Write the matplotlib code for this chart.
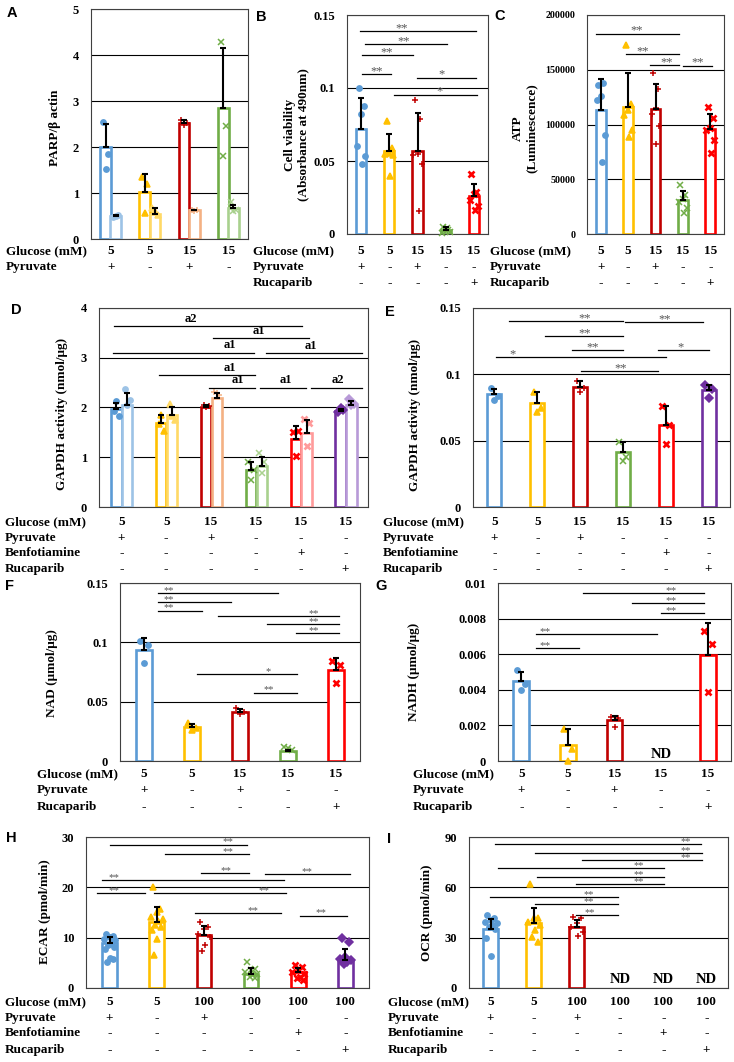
import matplotlib
matplotlib.use("Agg")
import matplotlib.pyplot as plt
import matplotlib.transforms as mtransforms
import numpy as np

W, H = 734, 1062
plt.rcParams["font.family"] = ["Liberation Serif", "DejaVu Serif"]
plt.rcParams["font.weight"] = "bold"
plt.rcParams["font.size"] = 9

BLUE, YELLOW, DRED, GREEN, RED, PURPLE = "#5B9BD5", "#FFC000", "#C00000", "#70AD47", "#FF0000", "#7030A0"
LBLUE, LYELLOW, LSALMON, LGREEN, LPINK, LPURPLE = "#9DC3E6", "#FFD966", "#F4B183", "#A9D18E", "#FF9B9B", "#B89AD8"

# ---------------- data ----------------
# A: PARP / beta actin (two bars per group)
a_mean_dark = [2.0, 1.03, 2.52, 2.85]
a_sd_dark = [0.5, 0.39, 0.06, 1.3]
a_pts_dark = [[2.55, 1.85, 1.52], [1.35, 1.2, 0.57], [2.58, 2.52, 2.48], [4.28, 2.45, 1.8]]
a_mean_light = [0.5, 0.55, 0.62, 0.67]
a_sd_light = [0.03, 0.12, 0.02, 0.08]
a_pts_light = [[0.48, 0.53, 0.5], [0.68, 0.52, 0.6], [0.63, 0.62, 0.61], [0.8, 0.62, 0.6]]
a_glucose = ["5", "5", "15", "15"]
a_pyruvate = ["+", "-", "+", "-"]

# B: cell viability
b_mean = [0.0718, 0.0568, 0.057, 0.003, 0.026]
b_sd = [0.0214, 0.0118, 0.026, 0.0015, 0.008]
b_pts = [[0.1, 0.0875, 0.082, 0.0605, 0.0535, 0.048],
         [0.0775, 0.0586, 0.0552, 0.055, 0.054, 0.0398],
         [0.0916, 0.079, 0.055, 0.054, 0.048, 0.016],
         [0.005, 0.003, 0.002, 0.001, 0.0015, 0.004],
         [0.041, 0.029, 0.0275, 0.023, 0.0195, 0.0166]]
b_sig = [(-0.03, 4.06, 0.139, "**", 1.43), (0.13, 3.06, 0.130, "**", 1.51),
         (0.04, 1.84, 0.1227, "**", 0.89), (0.04, 1.05, 0.1093, "**", 0.54),
         (1.98, 4.06, 0.107, "*", 2.85), (1.15, 4.12, 0.0955, "*", 2.79)]

# C: ATP
c_mean = [113400, 116000, 114000, 31300, 95700]
c_sd = [28200, 31000, 23000, 8200, 13700]
c_pts = [[136000, 138000, 126000, 122000, 90000, 66000],
         [173000, 119000, 113000, 109000, 95000, 89000],
         [147000, 132000, 115000, 110000, 99000, 82000],
         [45000, 36000, 32000, 29000, 24000, 19000],
         [116000, 106000, 97000, 95000, 86000, 74000]]
c_sig = [(-0.18, 2.86, 183000, "**", 1.30), (0.94, 2.86, 164000, "**", 1.54),
         (1.79, 2.86, 154000, "**", 2.40), (3.0, 4.06, 153600, "**", 3.55)]

five_glucose = ["5", "5", "15", "15", "15"]
five_pyruvate = ["+", "-", "+", "-", "-"]
five_rucaparib = ["-", "-", "-", "-", "+"]

# D: GAPDH activity (two bars per group)
d_mean_dark = [1.97, 1.69, 2.02, 0.74, 1.36, 1.93]
d_sd_dark = [0.13, 0.15, 0.04, 0.17, 0.27, 0.04]
d_pts_dark = [[1.92, 1.83, 2.13], [1.66, 1.53, 1.85], [2.05, 2.03, 2.0],
              [0.91, 0.74, 0.55], [1.51, 1.53, 1.03], [1.9, 1.95, 1.98]]
d_mean_light = [2.06, 1.85, 2.2, 0.83, 1.49, 2.06]
d_sd_light = [0.23, 0.15, 0.09, 0.18, 0.26, 0.08]
d_pts_light = [[2.37, 2.15, 2.06], [2.08, 1.75, 1.82], [2.32, 2.25, 2.29],
               [1.08, 0.91, 0.69], [1.77, 1.68, 1.22], [2.17, 2.08, 2.05]]
d_sig = [(-0.16, 4.02, 3.64, "a2", 1.54), (2.05, 4.18, 3.39, "a1", 3.06),
         (-0.19, 2.95, 3.10, "a1", 2.42), (3.22, 5.37, 3.09, "a1", 4.22),
         (0.84, 2.97, 2.65, "a1", 2.42), (1.96, 2.97, 2.40, "a1", 2.6),
         (3.10, 4.11, 2.40, "a1", 3.66), (4.22, 5.37, 2.40, "a2", 4.82)]

# E: GAPDH activity
e_mean = [0.0854, 0.0784, 0.0905, 0.0415, 0.062, 0.088]
e_sd = [0.0033, 0.0083, 0.0042, 0.0075, 0.0139, 0.0037]
e_pts = [[0.09, 0.084, 0.081], [0.087, 0.0746, 0.0716], [0.095, 0.09, 0.087],
         [0.049, 0.038, 0.035], [0.076, 0.062, 0.0477], [0.0917, 0.0887, 0.0824]]
e_sig = [(0.33, 3.01, 0.140, "**", 2.11), (3.06, 4.88, 0.1395, "**", 3.97),
         (1.18, 3.01, 0.129, "**", 2.11), (1.82, 3.01, 0.1183, "**", 2.30),
         (3.81, 5.0, 0.1183, "*", 4.35), (0.04, 4.0, 0.113, "*", 0.43),
         (2.02, 3.83, 0.1025, "**", 2.94)]

six_glucose = ["5", "5", "15", "15", "15", "15"]
six_pyruvate = ["+", "-", "+", "-", "-", "-"]
six_benfotiamine = ["-", "-", "-", "-", "+", "-"]
six_rucaparib = ["-", "-", "-", "-", "-", "+"]

# F: NAD
f_mean = [0.0935, 0.0287, 0.0411, 0.0085, 0.0766]
f_sd = [0.0105, 0.0028, 0.0023, 0.0011, 0.0104]
f_pts = [[0.101, 0.0977, 0.0822], [0.032, 0.028, 0.026], [0.0448, 0.0414, 0.04],
         [0.0118, 0.0096, 0.011], [0.0845, 0.081, 0.0654]]
f_sig = [(0.30, 2.80, 0.1414, "**", 0.51), (0.30, 1.81, 0.134, "**", 0.51),
         (0.30, 1.20, 0.1268, "**", 0.51), (1.55, 4.06, 0.1225, "**", 3.53),
         (2.56, 4.06, 0.1155, "**", 3.53), (3.17, 4.06, 0.1076, "**", 3.53),
         (1.11, 3.18, 0.073, "*", 2.59), (2.29, 3.18, 0.0577, "**", 2.59)]

# G: NADH (group 4 not detected)
g_mean = [0.00449, 0.00088, 0.00229, np.nan, 0.00595]
g_sd = [0.00053, 0.00094, 0.00025, np.nan, 0.00179]
g_pts = [[0.0051, 0.00432, 0.004], [0.00182, 0.0007, 0.0], [0.00248, 0.0024, 0.00192],
         [], [0.00733, 0.00657, 0.00389]]
g_sig = [(1.32, 3.91, 0.00943, "**", 3.21), (2.38, 3.91, 0.00886, "**", 3.21),
         (2.99, 3.91, 0.0083, "**", 3.21), (0.31, 2.91, 0.00712, "**", 0.52),
         (0.31, 1.23, 0.00633, "**", 0.52)]
g_nd = [3]

# H: ECAR
h_mean = [9.0, 13.1, 10.6, 2.7, 3.2, 5.6]
h_sd = [1.2, 3.0, 1.65, 1.3, 0.8, 2.1]
h_pts = [[10.8, 10.4, 10.1, 9.8, 9.5, 9.0, 8.5, 8.2, 7.8, 6.0, 5.2, 5.8],
         [20.0, 15.6, 15.1, 14.1, 13.8, 13.4, 12.5, 12.1, 11.5, 9.8, 6.5],
         [13.1, 12.1, 11.8, 10.8, 10.1, 8.5, 7.4],
         [5.2, 3.8, 3.5, 3.2, 2.8, 2.5, 2.2, 1.9],
         [4.5, 4.2, 3.5, 3.2, 2.7, 2.2, 1.9, 1.5],
         [10.0, 9.1, 6.2, 5.8, 5.5, 5.2, 4.8]]
h_sig = [(0.01, 2.91, 28.5, "**", 2.51), (1.17, 2.96, 26.6, "**", 2.51),
         (1.94, 2.95, 22.8, "**", 2.47), (3.30, 5.09, 22.7, "**", 4.18),
         (-0.17, 3.69, 21.5, "**", 0.09), (-0.27, 0.75, 18.9, "**", 0.09),
         (0.94, 3.74, 18.9, "**", 3.28), (1.82, 3.63, 14.9, "**", 3.05),
         (4.04, 5.03, 14.4, "**", 4.48)]

# I: OCR (groups 4-6 not detected)
i_mean = [35.0, 38.5, 36.6, np.nan, np.nan, np.nan]
i_sd = [5.9, 8.9, 3.9, np.nan, np.nan, np.nan]
i_pts = [[43.5, 42, 40.5, 39.5, 38.5, 37.5, 36.5, 35, 29.6, 19.2],
         [62, 42, 41.5, 39.5, 37.5, 34.6, 30.6, 27.7],
         [42.5, 41.5, 38.5, 36.6, 33.6, 31], [], [], []]
i_sig = [(0.11, 4.88, 85.6, "**", 4.52), (1.04, 4.90, 80.6, "**", 4.52),
         (2.11, 4.90, 76.5, "**", 4.52), (0.17, 4.02, 71.7, "**", 3.44),
         (1.07, 4.02, 66.2, "**", 3.44), (1.98, 4.02, 61.7, "**", 3.44),
         (-0.01, 2.95, 54.3, "**", 2.28), (1.03, 2.95, 49.8, "**", 2.28),
         (1.99, 2.95, 43.5, "**", 2.30)]
i_nd = [3, 4, 5]

hi_glucose = ["5", "5", "100", "100", "100", "100"]

# ---------------- drawing ----------------
fig = plt.figure(figsize=(W / 100, H / 100), dpi=100)
OFFS = [-0.25, 0.25, 0.0, -0.4, 0.4, 0.1, -0.1, 0.3, -0.3, 0.05, -0.2, 0.2]


def add_ax(l, t, r, b):
    return fig.add_axes([l / W, 1 - b / H, (r - l) / W, (b - t) / H])


def style(ax, n, ymax, ticks, labels, tick_size=9):
    ax.set_xlim(-0.5, n - 0.5)
    ax.set_ylim(0, ymax)
    ax.set_xticks([])
    ax.set_yticks(ticks)
    ax.set_yticklabels(labels, fontsize=tick_size, fontweight="bold")
    ax.tick_params(axis="y", length=0, pad=8.5)
    ax.yaxis.grid(True, color="black", lw=0.8)
    ax.set_axisbelow(True)
    for s in ax.spines.values():
        s.set_color("#404040")
        s.set_linewidth(0.8)


def bars(ax, xs, means, sds, pts, colors, markers, width):
    for x, m, s, p, c, mk in zip(xs, means, sds, pts, colors, markers):
        if np.isnan(m):
            continue
        ax.bar(x, m, width, facecolor="white", edgecolor=c, linewidth=1.9, zorder=2)
        offs = np.array(OFFS[:len(p)]) * width
        mew = 1.9 if (mk == "x" and c in (RED, LPINK)) else 1.1
        ms = 3.8 if mk in ("o", "^", "D") else 4.3
        ax.plot(x + offs, p, ls="none", marker=mk, ms=ms, color=c, mew=mew, zorder=3, clip_on=False)
        ax.errorbar(x, m, yerr=[[0], [s]], fmt="none", ecolor="black", elinewidth=1.5,
                    capsize=2.5, capthick=1.5, zorder=4)


def sig(ax, items, star=True, fs=9):
    for x1, x2, y, lab, lx in items:
        ax.plot([x1, x2], [y, y], color="black", lw=0.9, zorder=5, clip_on=False)
        if star:
            ax.text(lx, y, lab, ha="center", va="baseline", fontsize=fs,
                    fontweight="normal", color="#555555", zorder=6)
        else:
            ax.annotate(lab, (lx, y), xytext=(0, 1), textcoords="offset points", ha="center",
                        va="bottom", fontsize=9, fontweight="bold", color="black")


def rows(ax, left_px, ys_px, names, values):
    tr = mtransforms.blended_transform_factory(ax.transData, fig.transFigure)
    for y, name, vals in zip(ys_px, names, values):
        fig.text(left_px / W, 1 - y / H, name, ha="left", va="center", fontsize=9.5)
        for i, v in enumerate(vals):
            ax.text(i, 1 - y / H, v, transform=tr, ha="center", va="center", fontsize=9.5)


def ylabel(x_px, y_px, text):
    fig.text(x_px / W, 1 - y_px / H, text, rotation=90, ha="center", va="center",
             fontsize=9.5, linespacing=1.15)


def letter(x_px, y_px, s):
    fig.text(x_px / W, 1 - y_px / H, s, ha="center", va="center", fontsize=10.5,
             fontweight="bold", family=["Liberation Sans", "DejaVu Sans"])


def nd(ax, idx, lift):
    for i in idx:
        ax.annotate("ND", (i, 0), xytext=(0, lift), textcoords="offset points",
                    ha="center", va="baseline", fontsize=10.5, fontweight="bold")


C5 = [BLUE, YELLOW, DRED, GREEN, RED]
M5 = ["o", "^", "+", "x", "x"]
C6 = [BLUE, YELLOW, DRED, GREEN, RED, PURPLE]
M6 = ["o", "^", "+", "x", "x", "D"]
L6 = [LBLUE, LYELLOW, LSALMON, LGREEN, LPINK, LPURPLE]
ROW5 = ["Glucose (mM)", "Pyruvate", "Rucaparib"]
ROW6 = ["Glucose (mM)", "Pyruvate", "Benfotiamine", "Rucaparib"]

# A
ax = add_ax(91, 9, 248, 239)
style(ax, 4, 5, range(6), [str(v) for v in range(6)])
x = np.arange(4)
bars(ax, x - 0.13, a_mean_dark, a_sd_dark, a_pts_dark, C6[:4], M6[:4], 0.27)
bars(ax, x + 0.13, a_mean_light, a_sd_light, a_pts_light, L6[:4], M6[:4], 0.27)
rows(ax, 6, [251, 267], ROW5[:2], [a_glucose, a_pyruvate])
ylabel(55, 128, "PARP/β actin")
letter(12, 13, "A")

# B
ax = add_ax(347, 15, 488, 234)
style(ax, 5, 0.15, [0, 0.05, 0.1, 0.15], ["0", "0.05", "0.1", "0.15"])
bars(ax, np.arange(5), b_mean, b_sd, b_pts, C5, M5, 0.36)
sig(ax, b_sig)
rows(ax, 253, [251, 267, 283], ROW5, [five_glucose, five_pyruvate, five_rucaparib])
ylabel(297, 135, "Cell viability\n(Absorbance at 490nm)")
letter(261, 17, "B")

# C
ax = add_ax(587, 15, 724, 234)
style(ax, 5, 200000, [0, 50000, 100000, 150000, 200000],
      ["0", "50000", "100000", "150000", "200000"], tick_size=7.2)
bars(ax, np.arange(5), c_mean, c_sd, c_pts, C5, M5, 0.36)
sig(ax, c_sig)
rows(ax, 490, [251, 267, 283], ROW5, [five_glucose, five_pyruvate, five_rucaparib])
ylabel(525, 128, "ATP\n(Luminescence)")
letter(500, 16, "C")

# D
ax = add_ax(99, 308, 368, 507)
style(ax, 6, 4, range(5), [str(v) for v in range(5)])
x = np.arange(6)
bars(ax, x - 0.11, d_mean_dark, d_sd_dark, d_pts_dark, C6, M6, 0.23)
bars(ax, x + 0.13, d_mean_light, d_sd_light, d_pts_light, L6, M6, 0.23)
sig(ax, d_sig, star=False)
rows(ax, 5, [522, 538, 553, 569], ROW6, [six_glucose, six_pyruvate, six_benfotiamine, six_rucaparib])
ylabel(62, 414, "GAPDH activity (nmol/μg)")
letter(16, 310, "D")

# E
ax = add_ax(473, 308, 730, 507)
style(ax, 6, 0.15, [0, 0.05, 0.1, 0.15], ["0", "0.05", "0.1", "0.15"])
bars(ax, np.arange(6), e_mean, e_sd, e_pts, C6, M6, 0.33)
sig(ax, e_sig)
rows(ax, 383, [522, 538, 553, 569], ROW6, [six_glucose, six_pyruvate, six_benfotiamine, six_rucaparib])
ylabel(415, 415, "GAPDH activity (nmol/μg)")
letter(390, 312, "E")

# F
ax = add_ax(120, 583, 360, 761)
style(ax, 5, 0.15, [0, 0.05, 0.1, 0.15], ["0", "0.05", "0.1", "0.15"])
bars(ax, np.arange(5), f_mean, f_sd, f_pts, C5, M5, 0.33)
sig(ax, f_sig, fs=7.5)
rows(ax, 37, [774, 790, 807], ROW5, [five_glucose, five_pyruvate, five_rucaparib])
ylabel(52, 673, "NAD (μmol/μg)")
letter(9, 586, "F")

# G
ax = add_ax(498, 583, 731, 761)
style(ax, 5, 0.01, [0, 0.002, 0.004, 0.006, 0.008, 0.01],
      ["0", "0.002", "0.004", "0.006", "0.008", "0.01"])
bars(ax, np.arange(5), g_mean, g_sd, g_pts, C5, M5, 0.34)
sig(ax, g_sig, fs=8)
nd(ax, g_nd, 2.5)
rows(ax, 413, [774, 790, 807], ROW5, [five_glucose, five_pyruvate, five_rucaparib])
ylabel(414, 672, "NADH (μmol/μg)")
letter(381, 586, "G")

# H
ax = add_ax(86, 837, 369, 988)
style(ax, 6, 30, [0, 10, 20, 30], ["0", "10", "20", "30"])
bars(ax, np.arange(6), h_mean, h_sd, h_pts, C6, M6, 0.31)
sig(ax, h_sig, fs=7.8)
rows(ax, 5, [1002, 1018, 1033, 1050], ROW6, [hi_glucose, six_pyruvate, six_benfotiamine, six_rucaparib])
ylabel(45, 912, "ECAR (pmol/min)")
letter(11, 838, "H")

# I
ax = add_ax(469, 837, 728, 988)
style(ax, 6, 90, [0, 30, 60, 90], ["0", "30", "60", "90"])
bars(ax, np.arange(6), i_mean, i_sd, i_pts, C6, M6, 0.35)
sig(ax, i_sig, fs=7.5)
nd(ax, i_nd, 3.5)
rows(ax, 388, [1002, 1018, 1033, 1050], ROW6, [hi_glucose, six_pyruvate, six_benfotiamine, six_rucaparib])
ylabel(427, 913, "OCR (pmol/min)")
letter(389, 839, "I")

fig.savefig("out.png", dpi=100)
